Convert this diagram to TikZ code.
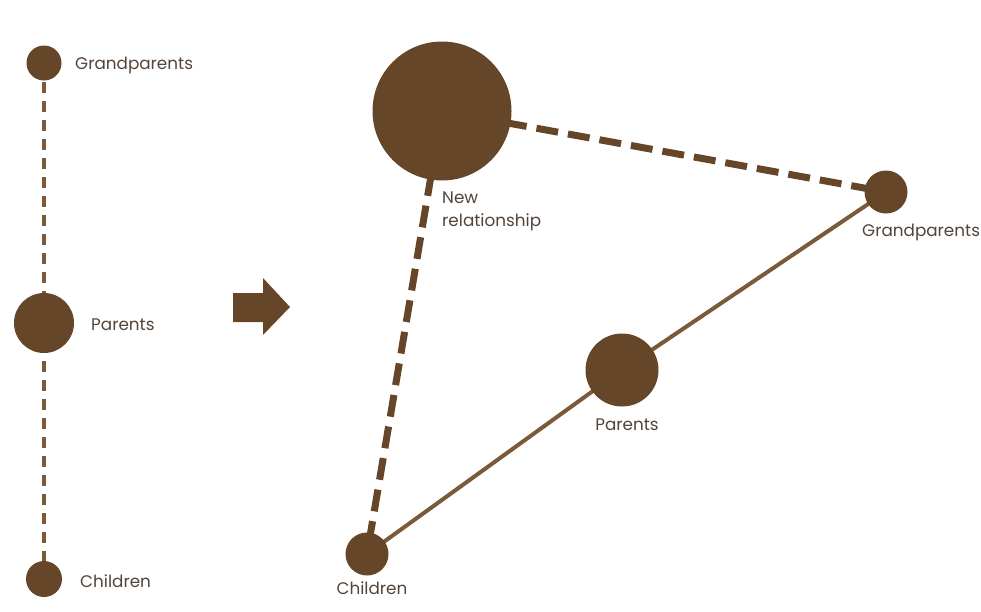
\documentclass[tikz,border=0pt]{standalone}
\usepackage{fontspec}
\setmainfont{Poppins}
\begin{document}
\definecolor{nodefill}{HTML}{664628}
\definecolor{linecol}{HTML}{7A5A38}
\definecolor{txt}{HTML}{52443A}
\begin{tikzpicture}[x=1pt,y=-1pt,
  dot/.style={circle,fill=nodefill,inner sep=0pt,minimum size=#1},
  lbl/.style={text=txt,font=\fontsize{16.8}{22}\selectfont,inner sep=0pt},
  thindash/.style={draw=linecol,line width=4.5pt,dash pattern=on 11pt off 8pt},
  thickdash/.style={draw=nodefill,line width=7pt,dash pattern=on 22pt off 10pt},
  solidline/.style={draw=linecol,line width=4pt}]
\useasboundingbox (0,0) rectangle (981,611);
% left column
\coordinate (lg) at (44,63);
\coordinate (lp) at (44,323);
\coordinate (lc) at (44,579);
\draw[thindash] (lg) -- (lp);
\draw[thindash] (lp) -- (lc);
\node[dot=35pt] (LG) at (lg) {};
\node[dot=60pt] (LP) at (lp) {};
\node[dot=36pt] (LC) at (lc) {};
\node[lbl,anchor=west] (LGt) at (75,65) {Grandparents};
\node[lbl,anchor=west] (LPt) at (91,325) {Parents};
\node[lbl,anchor=west] (LCt) at (80,581) {Children};
% arrow
\fill[nodefill] (233,293) -- (263,293) -- (263,278) -- (290,307) -- (263,335) -- (263,322) -- (233,322) -- cycle;
% right
\coordinate (nr) at (442,111);
\coordinate (rg) at (886,192);
\coordinate (rp) at (622,370);
\coordinate (rc) at (367,554);
\draw[solidline] (rc) -- (rp) -- (rg);
\draw[thickdash] (nr) -- (rg);
\draw[thickdash] (nr) -- (rc);
\node[dot=139pt] (NR) at (nr) {};
\node[dot=43pt] (RG) at (rg) {};
\node[dot=73pt] (RP) at (rp) {};
\node[dot=43pt] (RC) at (rc) {};
\node[lbl,anchor=north west,align=left,font=\fontsize{16.8}{23}\selectfont] (NRt) at (442,192) {New\\relationship};
\node[lbl,anchor=west] (RGt) at (862,232) {Grandparents};
\node[lbl] (RPt) at (627,425) {Parents};
\node[lbl] (RCt) at (372,588) {Children};
\end{tikzpicture}
\end{document}
